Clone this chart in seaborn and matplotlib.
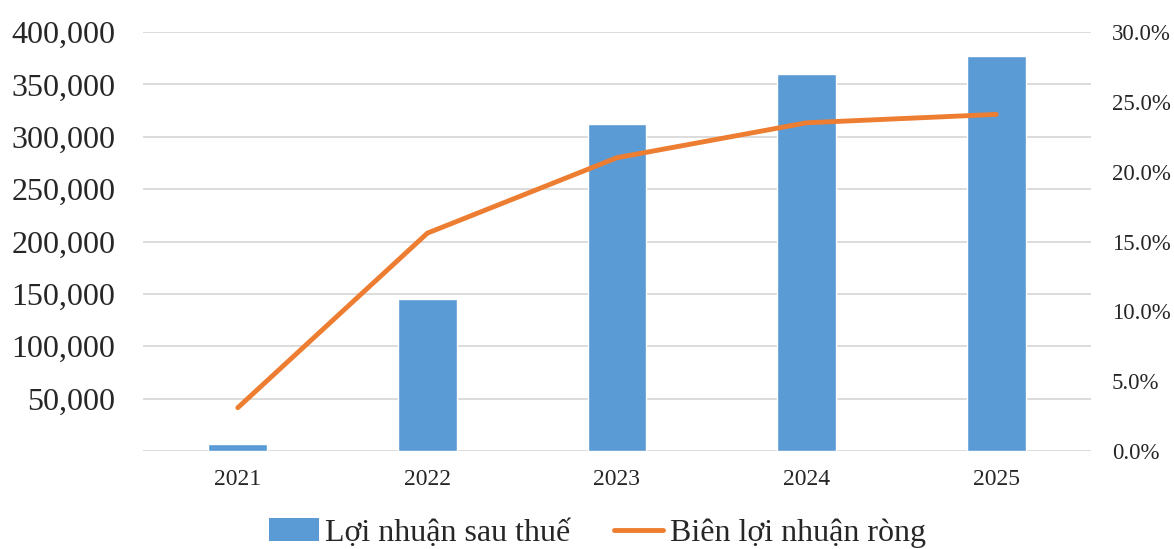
import matplotlib
matplotlib.use("Agg")
import matplotlib.pyplot as plt
import seaborn as sns
import pandas as pd
from matplotlib.ticker import FuncFormatter, FixedLocator
from matplotlib.patches import Patch
from matplotlib.lines import Line2D

years = ["2021", "2022", "2023", "2024", "2025"]
profit = [6700, 145000, 312000, 359500, 377000]
margin = [3.1, 15.6, 21.0, 23.5, 24.1]
bar_label = "Lợi nhuận sau thuế"
line_label = "Biên lợi nhuận ròng"

sns.set_theme(style="white")
plt.rcParams['font.family'] = ['Liberation Serif', 'DejaVu Serif']

df = pd.DataFrame({"year": years, "profit": profit, "margin": margin})

fig = plt.figure(figsize=(11.74, 5.49), dpi=100)
ax = fig.add_axes([143/1174, 1 - 451/549, (1091-143)/1174, (451-32)/549])

bar_color = "#5B9BD5"
line_color = "#ED7D31"
sns.barplot(data=df, x="year", y="profit", color=bar_color, width=0.31,
            saturation=1, ax=ax, zorder=3)
ax.set_xlim(-0.5, 4.5)
ax.set_ylim(0, 400000)
ax.yaxis.set_major_locator(FixedLocator([0, 50000, 100000, 150000, 200000, 250000, 300000, 350000, 400000]))
ax.yaxis.set_major_formatter(FuncFormatter(lambda v, p: "" if v == 0 else f"{int(v):,}"))
ax.grid(axis="y", color="#D9D9D9", linewidth=1.3, zorder=0)
ax.set_axisbelow(True)
for s in ax.spines.values():
    s.set_visible(False)
ax.tick_params(axis="y", labelsize=23, length=0, pad=20)
ax.tick_params(axis="x", labelsize=17, length=0, pad=13)
ax.set_xlabel("")
ax.set_ylabel("")

ax2 = ax.twinx()
sns.lineplot(x=list(range(len(years))), y=margin, ax=ax2, color=line_color,
             linewidth=3.5, solid_capstyle="round", zorder=4)
ax2.set_ylim(0, 30)
ax2.yaxis.set_major_locator(FixedLocator([0, 5, 10, 15, 20, 25, 30]))
ax2.yaxis.set_major_formatter(FuncFormatter(lambda v, p: f"{v:.1f}%"))
ax2.tick_params(axis="y", labelsize=16.5, length=0, pad=15)
for s in ax2.spines.values():
    s.set_visible(False)
ax2.grid(False)
ax2.set_ylabel("")

handles = [Patch(facecolor=bar_color, edgecolor="none", label=bar_label),
           Line2D([0], [0], color=line_color, linewidth=3.5, solid_capstyle="round", label=line_label)]
fig.legend(handles=handles, loc="center", bbox_to_anchor=(0.509, 1 - 533/549),
           ncol=2, frameon=False, fontsize=23, handlelength=1.55, handletextpad=0.2,
           columnspacing=1.35)

fig.savefig("out.png", dpi=100)
